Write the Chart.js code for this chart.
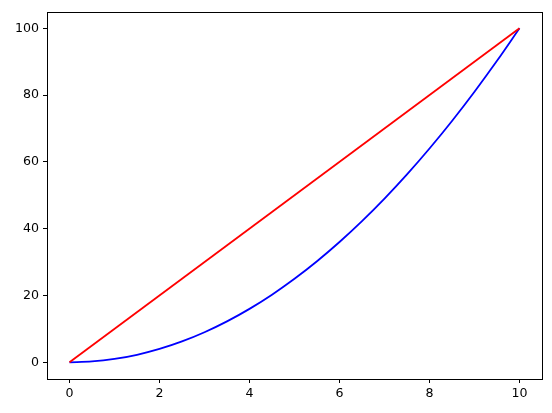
<!DOCTYPE html>
<html>
<head>
<meta charset="utf-8">
<script src="https://cdn.jsdelivr.net/npm/chart.js@4/dist/chart.umd.min.js"></script>
<style>
  html, body { margin: 0; padding: 0; background: #fff; }
  canvas { display: block; }
</style>
</head>
<body>
<canvas id="grafico" width="552" height="413"></canvas>
<script>
// valores
const xCurva = [0, 0.5, 1, 1.5, 2, 2.5, 3, 3.5, 4, 4.5, 5, 5.5, 6, 6.5, 7, 7.5, 8, 8.5, 9, 9.5, 10];
const yCurva = [0, 0.25, 1, 2.25, 4, 6.25, 9, 12.25, 16, 20.25, 25, 30.25, 36, 42.25, 49, 56.25, 64, 72.25, 81, 90.25, 100];
const xRecta = [0, 10];
const yRecta = [0, 100];
const ticksX = [0, 2, 4, 6, 8, 10];
const ticksY = [0, 20, 40, 60, 80, 100];

const toPoints = (xs, ys) => xs.map((x, i) => ({ x: x, y: ys[i] }));

// marco completo alrededor del area
const marco = {
  id: 'marco',
  afterDraw(chart) {
    const { ctx, chartArea: a } = chart;
    ctx.save();
    ctx.strokeStyle = '#000';
    ctx.lineWidth = 1;
    ctx.strokeRect(Math.round(a.left) + 0.5, Math.round(a.top) + 0.5,
      Math.round(a.right - a.left), Math.round(a.bottom - a.top));
    ctx.restore();
  }
};

const fuente = { family: 'DejaVu Sans', size: 12.6 };

const ctx = document.getElementById('grafico').getContext('2d');
new Chart(ctx, {
  type: 'scatter',
  data: {
    datasets: [
      {
        data: toPoints(xRecta, yRecta),
        showLine: true,
        borderColor: '#ff0000',
        borderWidth: 1.8,
        pointRadius: 0
      },
      {
        data: toPoints(xCurva, yCurva),
        showLine: true,
        borderColor: '#0000ff',
        borderWidth: 1.8,
        pointRadius: 0,
        cubicInterpolationMode: 'monotone'
      }
    ]
  },
  options: {
    responsive: false,
    animation: false,
    layout: { padding: { left: 0, top: 10, right: 10, bottom: 0 } },
    plugins: { legend: { display: false }, tooltip: { enabled: false } },
    scales: {
      x: {
        type: 'linear',
        min: -0.5,
        max: 10.5,
        afterBuildTicks: axis => { axis.ticks = ticksX.map(v => ({ value: v })); },
        afterFit: axis => { axis.height = 34; },
        grid: { drawOnChartArea: false, drawTicks: true, tickLength: 4, color: '#000' },
        border: { display: false },
        ticks: { color: '#000', font: fuente, padding: 3, maxRotation: 0 }
      },
      y: {
        type: 'linear',
        min: -5,
        max: 105,
        afterBuildTicks: axis => { axis.ticks = ticksY.map(v => ({ value: v })); },
        afterFit: axis => { axis.width = 47; },
        grid: { drawOnChartArea: false, drawTicks: true, tickLength: 4, color: '#000' },
        border: { display: false },
        ticks: { color: '#000', font: fuente, padding: 4 }
      }
    }
  },
  plugins: [marco]
});
</script>
</body>
</html>
